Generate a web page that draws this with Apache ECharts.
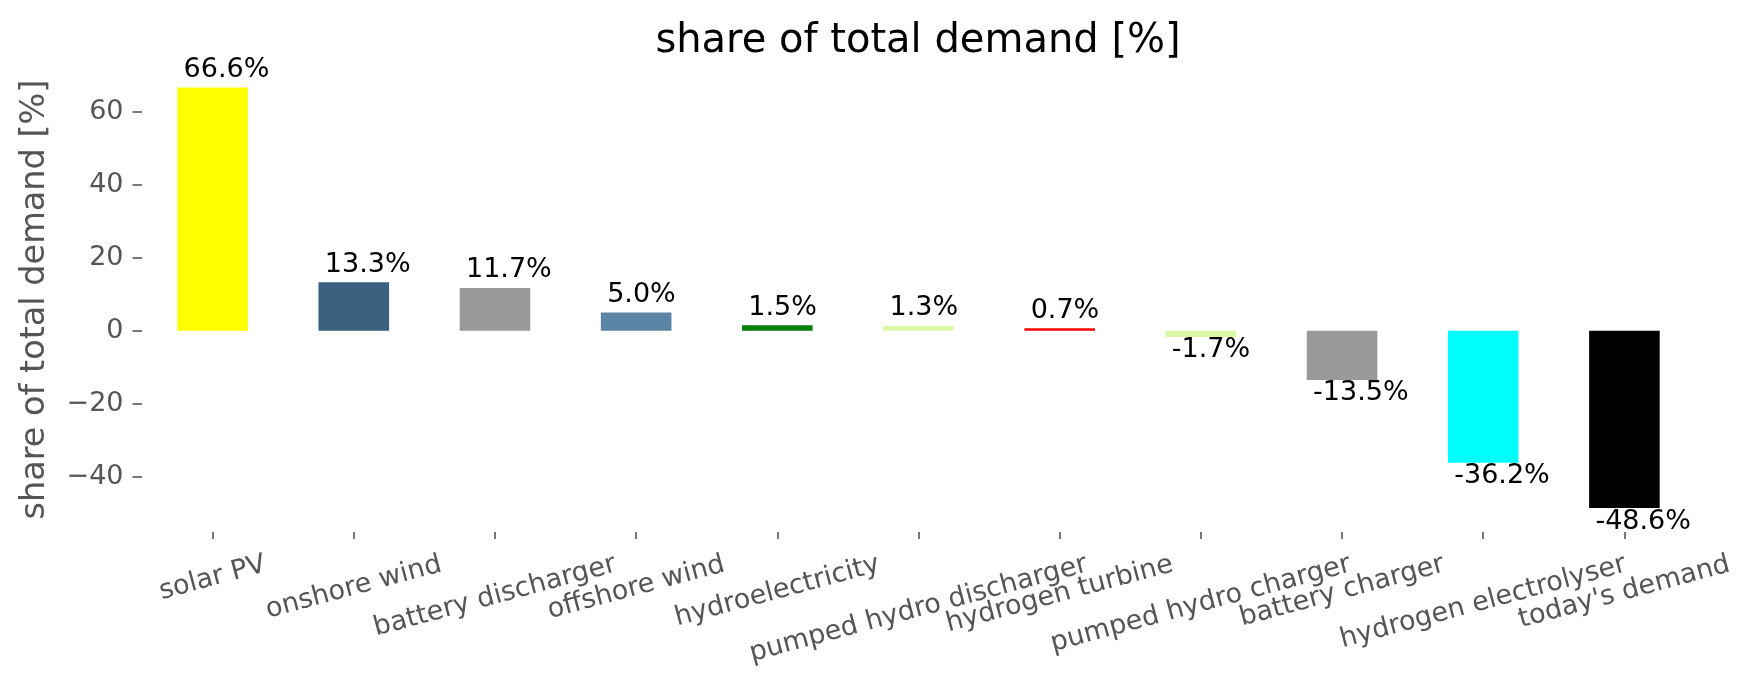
<!DOCTYPE html>
<html><head><meta charset="utf-8">
<script src="https://cdn.jsdelivr.net/npm/echarts@6/dist/echarts.min.js"></script>
<style>html,body{margin:0;padding:0;background:#fff}#c{width:1753px;height:689px}</style>
</head><body><div id="c"></div>
<script>
const categories = ['solar PV', 'onshore wind', 'battery discharger', 'offshore wind', 'hydroelectricity',
  'pumped hydro discharger', 'hydrogen turbine', 'pumped hydro charger', 'battery charger',
  'hydrogen electrolyser', "today's demand"];
const shares = [66.6, 13.3, 11.7, 5.0, 1.5, 1.3, 0.7, -1.7, -13.5, -36.2, -48.6];
const barColors = ['#ffff00', '#3b6180', '#999999', '#5c84a4', '#008000', '#d9f7a5', '#ff0000',
  '#d9f7a5', '#999999', '#00ffff', '#000000'];
const yTicks = [-40, -20, 0, 20, 40, 60];
const yLimits = [-55.15, 72.25];
const titleText = 'share of total demand [%]';
const yName = 'share of total demand [%]';

const FONT = '"DejaVu Sans", sans-serif';
const TICK_FONT_SIZE = 27;
const ROT = 15 * Math.PI / 180;
const ctx = document.createElement('canvas').getContext('2d');
ctx.font = TICK_FONT_SIZE + 'px "DejaVu Sans"';

// matplotlib-style rotated tick labels: rotated bounding box centred under the tick, top at a fixed pad
function renderTickLabel(params, api) {
  const name = categories[params.dataIndex];
  const pt = api.coord([api.value(0), yLimits[0]]);
  const w = ctx.measureText(name).width;
  const h = TICK_FONT_SIZE * 1.164;
  const boxH = w * Math.sin(ROT) + h * Math.cos(ROT);
  return {
    type: 'text',
    x: pt[0], y: pt[1] + 17 + boxH / 2,
    rotation: ROT,
    style: { text: name, align: 'center', verticalAlign: 'middle',
      font: TICK_FONT_SIZE + 'px ' + FONT, fill: '#555' }
  };
}

const barData = shares.map(function (v, i) {
  const d = { value: v, itemStyle: { color: barColors[i] } };
  if (v < 0) d.label = { distance: 0 };
  return d;
});

const chart = echarts.init(document.getElementById('c'), null, { renderer: 'canvas' });
chart.setOption({
  animation: false,
  backgroundColor: '#ffffff',
  textStyle: { fontFamily: FONT },
  title: {
    text: titleText, left: 918, top: 22, padding: 0, textAlign: 'center',
    textStyle: { fontSize: 40, fontWeight: 'normal', color: '#000', fontFamily: FONT }
  },
  grid: { left: 142, right: 58, top: 67, bottom: 157, outerBoundsMode: 'none', containLabel: false },
  xAxis: {
    type: 'category', data: categories,
    axisLine: { show: false, onZero: false },
    axisTick: { show: true, interval: 0, alignWithLabel: true, length: 7,
      lineStyle: { color: '#555', width: 1.6 } },
    axisLabel: { show: false },
    splitLine: { show: false }
  },
  yAxis: {
    type: 'value', min: yLimits[0], max: yLimits[1],
    name: yName, nameLocation: 'middle', nameGap: 90,
    nameTextStyle: { fontSize: 33.5, color: '#555', fontFamily: FONT },
    axisLine: { show: false },
    axisTick: { show: true, length: 9.5, customValues: yTicks, lineStyle: { color: '#555', width: 1.6 } },
    axisLabel: { customValues: yTicks, margin: 18.5, fontSize: TICK_FONT_SIZE, color: '#555', fontFamily: FONT,
      formatter: function (v) { return v < 0 ? '\u2212' + Math.abs(v) : String(v); } },
    splitLine: { show: false }
  },
  series: [{
    type: 'bar', data: barData, barWidth: '50%',
    label: {
      show: true, position: 'outside', align: 'left', offset: [-29, 0], distance: 4.1,
      fontSize: 27, color: '#000', fontFamily: FONT,
      formatter: function (p) { return p.value.toFixed(1) + '%'; }
    }
  }, {
    type: 'custom', clip: false, silent: true,
    data: categories.map(function (c) { return [c]; }),
    encode: { x: 0 },
    renderItem: renderTickLabel
  }]
});
</script></body></html>
